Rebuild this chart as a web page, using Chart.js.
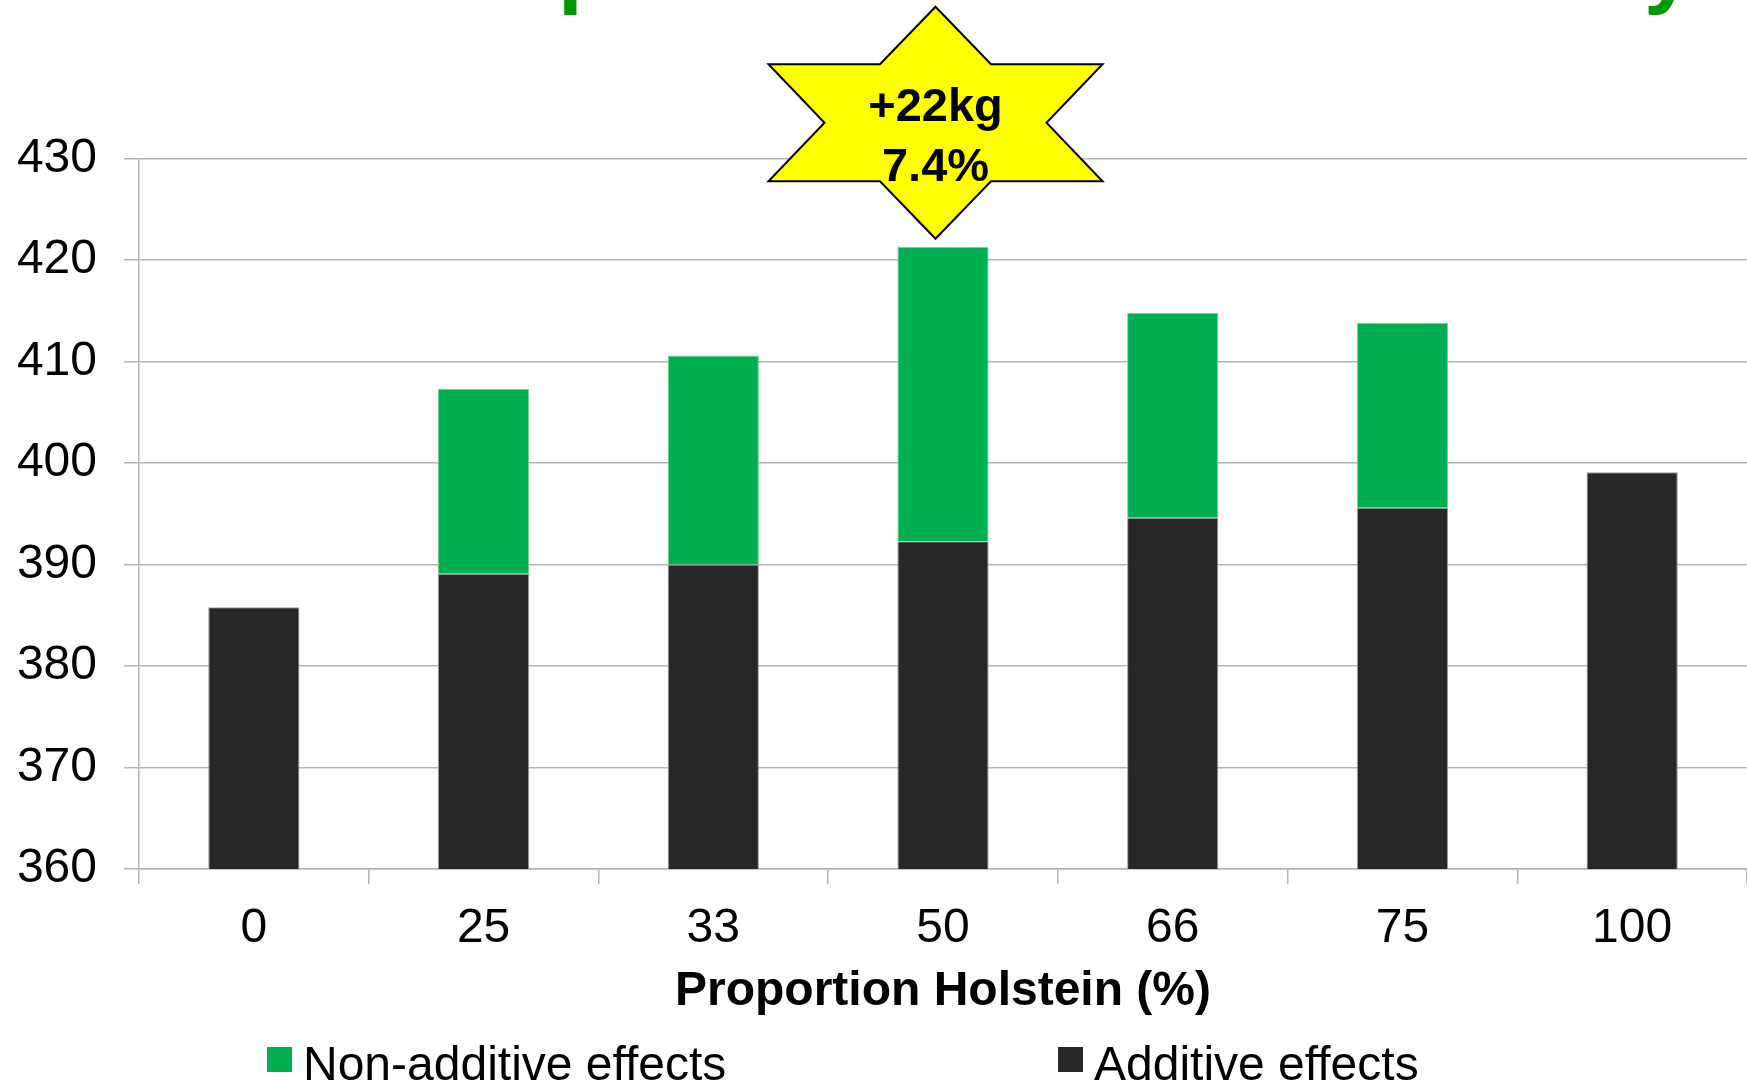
<!DOCTYPE html>
<html>
<head>
<meta charset="utf-8">
<script src="https://cdn.jsdelivr.net/npm/chart.js@4.4.1/dist/chart.umd.min.js"></script>
<style>
  html, body { margin: 0; padding: 0; background: #ffffff; overflow: hidden; }
  #wrap { width: 1747px; height: 1081px; }
</style>
</head>
<body>
<div id="wrap"><canvas id="c" width="1747" height="1081"></canvas></div>
<script>
// Fat + protein yield (kg) by Holstein proportion, split into additive and non-additive effects
const categories = ['0', '25', '33', '50', '66', '75', '100'];
const additiveEffects = [385.8, 389.1, 390.0, 392.3, 394.6, 395.6, 399.1];
const nonAdditiveEffects = [null, 18.2, 20.6, 29.0, 20.2, 18.2, null];
const yTickValues = [360, 370, 380, 390, 400, 410, 420, 430];
const seriesNames = ['Additive effects', 'Non-additive effects'];
const xAxisTitle = 'Proportion Holstein (%)';
const badgeLines = ['+22kg', '7.4%'];
const badgeCategory = '50';
const headingGlyphs = ['p', 'y'];

const FONT = "'Liberation Sans', Arial, Helvetica, sans-serif";
const DARK = '#272727';
const GREEN = '#00b050';
const GRID = '#b4b4b4';

// Heading letters above the plot (only their lower strokes fall inside the canvas)
const headingPlugin = {
  id: 'heading',
  afterDraw(chart) {
    const ctx = chart.ctx;
    const xs = [558, 1644];
    ctx.save();
    ctx.fillStyle = '#009a00';
    ctx.font = `bold 89px ${FONT}`;
    ctx.textBaseline = 'alphabetic';
    ctx.textAlign = 'left';
    headingGlyphs.forEach((g, i) => ctx.fillText(g, xs[i], -4));
    ctx.restore();
  }
};

// Legend drawn under the axis title, listing the series top-down as stacked
const legendPlugin = {
  id: 'bottomLegend',
  afterDraw(chart) {
    const ctx = chart.ctx;
    const sets = chart.data.datasets.slice().reverse();
    const boxX = [267, 1058];
    ctx.save();
    ctx.font = `48px ${FONT}`;
    ctx.textBaseline = 'alphabetic';
    ctx.textAlign = 'left';
    sets.forEach((ds, i) => {
      ctx.fillStyle = ds.backgroundColor;
      ctx.fillRect(boxX[i], 1047, 25, 25);
      ctx.fillStyle = '#000000';
      ctx.fillText(ds.label, boxX[i] + 36, 1080);
    });
    ctx.restore();
  }
};

// Six-point star call-out above the tallest bar
const badgePlugin = {
  id: 'badge',
  afterDraw(chart) {
    const ctx = chart.ctx;
    const xScale = chart.scales.x;
    const yScale = chart.scales.y;
    const idx = categories.indexOf(badgeCategory);
    const top = additiveEffects[idx] + (nonAdditiveEffects[idx] || 0);
    const cx = xScale.getPixelForValue(idx) - 7.5;
    const cy = yScale.getPixelForValue(top) - 124;
    const pts = [
      [0, -116], [55.5, -58.5], [167, -58.5], [111, 0], [167, 58.5], [55.5, 58.5],
      [0, 116], [-55.5, 58.5], [-167, 58.5], [-111, 0], [-167, -58.5], [-55.5, -58.5]
    ];
    ctx.save();
    ctx.beginPath();
    pts.forEach(([dx, dy], i) => {
      if (i === 0) ctx.moveTo(cx + dx, cy + dy); else ctx.lineTo(cx + dx, cy + dy);
    });
    ctx.closePath();
    ctx.fillStyle = '#ffff00';
    ctx.fill();
    ctx.lineWidth = 2;
    ctx.lineJoin = 'miter';
    ctx.strokeStyle = '#000000';
    ctx.stroke();
    ctx.fillStyle = '#000000';
    ctx.font = `bold 47px ${FONT}`;
    ctx.textAlign = 'center';
    ctx.textBaseline = 'alphabetic';
    ctx.fillText(badgeLines[0], cx, cy - 2);
    ctx.fillText(badgeLines[1], cx, cy + 58);
    ctx.restore();
  }
};

new Chart(document.getElementById('c'), {
  type: 'bar',
  data: {
    labels: categories,
    datasets: [
      {
        label: seriesNames[0],
        data: additiveEffects,
        backgroundColor: DARK,
        borderColor: '#9a9a9a',
        borderWidth: 1,
        categoryPercentage: 1,
        barPercentage: 0.397
      },
      {
        label: seriesNames[1],
        data: nonAdditiveEffects,
        backgroundColor: GREEN,
        borderColor: '#6fd39a',
        borderWidth: 1,
        categoryPercentage: 1,
        barPercentage: 0.397
      }
    ]
  },
  options: {
    responsive: false,
    devicePixelRatio: 1,
    animation: false,
    events: [],
    layout: { padding: { top: 158.5, right: 0, bottom: 0, left: 0 } },
    plugins: {
      legend: { display: false },
      tooltip: { enabled: false },
      title: { display: false }
    },
    scales: {
      x: {
        stacked: true,
        afterFit(scale) { scale.height = 212; },
        grid: {
          offset: true,
          drawOnChartArea: false,
          drawTicks: true,
          tickLength: 15,
          color: GRID,
          lineWidth: 1.5
        },
        border: { display: true, color: GRID, width: 1.5 },
        ticks: {
          color: '#000000',
          font: { family: FONT, size: 48 },
          padding: 16,
          maxRotation: 0,
          autoSkip: false
        },
        title: {
          display: true,
          text: xAxisTitle,
          color: '#000000',
          font: { family: FONT, size: 48, weight: 'bold' },
          padding: { top: 0, bottom: 60.5 }
        }
      },
      y: {
        stacked: true,
        min: yTickValues[0],
        max: yTickValues[yTickValues.length - 1],
        afterFit(scale) { scale.width = 139; },
        afterBuildTicks(scale) { scale.ticks = yTickValues.map(v => ({ value: v })); },
        grid: {
          color: GRID,
          lineWidth: 1.5,
          drawTicks: true,
          tickLength: 15
        },
        border: { display: true, color: GRID, width: 1.5 },
        ticks: {
          color: '#000000',
          font: { family: FONT, size: 48 },
          padding: 27
        }
      }
    }
  },
  plugins: [headingPlugin, legendPlugin, badgePlugin]
});
</script>
</body>
</html>
